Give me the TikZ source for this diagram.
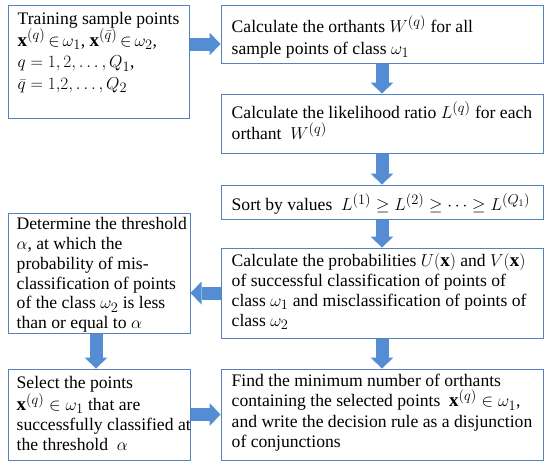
\documentclass[tikz,border=0pt]{standalone}
\usepackage{fontspec}
\setmainfont{Liberation Serif}
\usetikzlibrary{arrows.meta,calc}
\DeclareMathSizes{17.6}{19}{13.5}{10}
\definecolor{boxline}{RGB}{84,130,190}
\definecolor{arrowfill}{RGB}{84,141,212}
\newcommand{\fs}{\rule{0pt}{16pt}}
\begin{document}
\begin{tikzpicture}[x=1pt,y=-1pt,
  box/.style={draw=boxline,line width=1pt,inner sep=0pt},
  txt/.style={inner sep=0pt,anchor=north west,align=left,font=\fontsize{17.6}{19.8}\selectfont},
  flow/.style={draw=arrowfill,line width=13pt,-{Triangle[length=11pt,width=23pt,line width=0pt]}},
]
\useasboundingbox (0,0) rectangle (550,467);
% boxes
\node[box,minimum width=181pt,minimum height=113pt] (A) at (98.5,61.5) {};
\node[box,minimum width=322pt,minimum height=58pt] (B) at (382,34) {};
\node[box,minimum width=322pt,minimum height=59pt] (C) at (382,123.5) {};
\node[box,minimum width=322pt,minimum height=34pt] (D) at (382,202) {};
\node[box,minimum width=322pt,minimum height=90pt] (E) at (382,293) {};
\node[box,minimum width=182pt,minimum height=120pt] (F) at (99,273) {};
\node[box,minimum width=182pt,minimum height=91pt] (G) at (99,414.5) {};
\node[box,minimum width=322pt,minimum height=91pt] (H) at (382,414.5) {};
% texts
\node[txt,font=\fontsize{17.6}{21.5}\selectfont] (At) at ([xshift=10pt,yshift=-4pt]A.north west)
  {\fs Training sample points\\ \thickmuskip=3mu $\mathbf{x}^{(q)}\in\omega_1$, $\mathbf{x}^{(\bar q)}\in\omega_2$,\\ $q=1,2,\ldots,Q_1$,\\ $\bar q=1{,}2,\ldots,Q_2$};
\node[txt,font=\fontsize{17.6}{21.5}\selectfont] (Bt) at ([xshift=11pt,yshift=-11pt]B.north west)
  {\fs Calculate the orthants $W^{(q)}$ for all\\ sample points of class $\omega_1$};
\node[txt,font=\fontsize{17.6}{21}\selectfont] (Ct) at ([xshift=11pt,yshift=-8pt]C.north west)
  {\fs Calculate the likelihood ratio $L^{(q)}$ for each\\ orthant\ \ $W^{(q)}$};
\node[txt] (Dt) at ([xshift=11pt,yshift=-9pt]D.north west)
  {\fs Sort by values\ \ $L^{(1)}\ge L^{(2)}\ge\cdots\ge L^{(Q_1)}$};
\node[txt] (Et) at ([xshift=11pt,yshift=-3pt]E.north west)
  {\fs Calculate the probabilities $U(\mathbf{x})$ and $V(\mathbf{x})$\\ of successful classification of points of\\ class $\omega_1$ and misclassification of points of\\ class $\omega_2$};
\node[txt] (Ft) at ([xshift=9pt,yshift=-1pt]F.north west)
  {\fs Determine the threshold\\ $\alpha$, at which the\\ probability of mis-\\ classification of points\\ of the class $\omega_2$ is less\\ than or equal to $\alpha$};
\node[txt] (Gt) at ([xshift=9pt,yshift=-4pt]G.north west)
  {\fs Select the points\\ $\mathbf{x}^{(q)}\in\omega_1$ that are\\ successfully classified at\\ the threshold\ \ $\alpha$};
\node[txt,font=\fontsize{17.6}{20.2}\selectfont] (Ht) at ([xshift=11pt,yshift=-2pt]H.north west)
  {\fs Find the minimum number of orthants\\ containing the selected points\ \ $\mathbf{x}^{(q)}\in\omega_1$,\\ and write the decision rule as a disjunction\\ of conjunctions};
% arrows
\draw[flow] (A.east |- 0,44) -- (B.west |- 0,44);
\draw[flow] (B.south) -- (C.north);
\draw[flow] (C.south) -- (D.north);
\draw[flow] (D.south) -- (E.north);
\draw[flow] (E.west) -- (F.east |- E.west);
\draw[flow] ([xshift=-3pt]F.south) -- ([xshift=-3pt]G.north);
\draw[flow] (E.south) -- (H.north);
\draw[flow] (G.east) -- (H.west);
\end{tikzpicture}
\end{document}
